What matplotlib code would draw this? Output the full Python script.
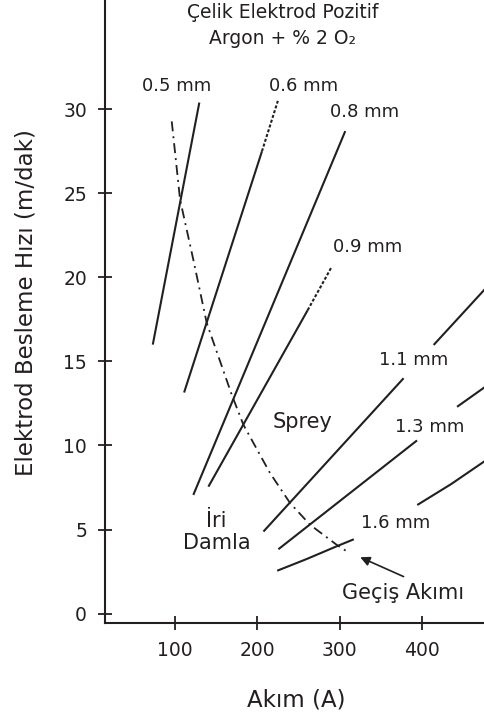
import matplotlib
matplotlib.use("Agg")
import matplotlib.pyplot as plt

plt.rcParams['font.family'] = ['DejaVu Sans']
plt.rcParams['lines.scale_dashes'] = False

ink = '#231f20'

# wire feed speed lines (A, m/dak)
w05_x = [73, 129.5]
w05_y = [16.0, 30.4]

w06_x = [111, 205.5]
w06_y = [13.15, 27.5]
w06_dot_x = [205.5, 224.8]
w06_dot_y = [27.5, 30.5]

w08_x = [122.2, 306.6]
w08_y = [7.06, 28.7]

w09_x = [140.5, 261]
w09_y = [7.55, 18.05]
w09_dot_x = [261, 290.4]
w09_dot_y = [18.05, 20.65]

w11_lo_x = [207.3, 377.4]
w11_lo_y = [4.88, 14.0]
w11_hi_x = [413.9, 490]
w11_hi_y = [15.98, 20.04]

w13_lo_x = [225.5, 393.7]
w13_lo_y = [3.83, 10.3]
w13_hi_x = [442.3, 490]
w13_hi_y = [12.3, 13.96]

w16_lo_x = [224, 260, 297, 317]
w16_lo_y = [2.55, 3.25, 4.02, 4.42]
w16_hi_x = [394, 435, 475, 490]
w16_hi_y = [6.46, 7.7, 9.04, 9.55]

# transition current (Geçiş Akımı)
tr_x = [96.0, 106.1, 122.2, 138.5, 168.9, 183.0, 215.4, 239.7, 264.0, 296.5, 311.4]
tr_y = [29.28, 24.63, 21.05, 17.28, 13.01, 11.23, 8.35, 6.57, 5.28, 4.08, 3.61]

xticks = [100, 200, 300, 400]
yticks = [0, 5, 10, 15, 20, 25, 30]

fig = plt.figure(figsize=(4.84, 7.17), dpi=100)
ax = fig.add_axes([105 / 484, 94 / 717, 379 / 484, 623 / 717])
ax.set_xlim(15, 475)
ax.set_ylim(-0.56, 36.5)

lw = 1.5
solid = dict(color=ink, lw=lw, solid_capstyle='butt')
dotted = dict(color=ink, lw=lw, linestyle=(0, (2.2, 1.4)))

ax.plot(w05_x, w05_y, **solid)
ax.plot(w06_x, w06_y, **solid)
ax.plot(w06_dot_x, w06_dot_y, **dotted)
ax.plot(w08_x, w08_y, **solid)
ax.plot(w09_x, w09_y, **solid)
ax.plot(w09_dot_x, w09_dot_y, **dotted)
ax.plot(w11_lo_x, w11_lo_y, **solid)
ax.plot(w11_hi_x, w11_hi_y, **solid)
ax.plot(w13_lo_x, w13_lo_y, **solid)
ax.plot(w13_hi_x, w13_hi_y, **solid)
ax.plot(w16_lo_x, w16_lo_y, **solid)
ax.plot(w16_hi_x, w16_hi_y, **solid)
ax.plot(tr_x, tr_y, color=ink, lw=1.3, linestyle=(0, (7.2, 3.6, 1.4, 3.6)))

for s in ['top', 'right']:
    ax.spines[s].set_visible(False)
for s in ['left', 'bottom']:
    ax.spines[s].set_linewidth(1.5)
    ax.spines[s].set_color(ink)

ax.set_xticks(xticks)
ax.set_yticks(yticks)
ax.tick_params(direction='inout', length=10, width=1.3, color=ink,
               labelsize=13.5, labelcolor=ink)
ax.tick_params(axis='x', pad=8)
ax.tick_params(axis='y', pad=8)

# text annotations
fs_mm = 13
ax.text(231, 34.97, "Çelik Elektrod Pozitif\nArgon + % 2 O₂", ha='center', va='center',
        fontsize=13.5, color=ink, linespacing=1.45)
ax.text(101.7, 31.4, "0.5 mm", ha='center', va='center', fontsize=fs_mm, color=ink)
ax.text(255.5, 31.4, "0.6 mm", ha='center', va='center', fontsize=fs_mm, color=ink)
ax.text(329.6, 29.85, "0.8 mm", ha='center', va='center', fontsize=fs_mm, color=ink)
ax.text(333.3, 21.82, "0.9 mm", ha='center', va='center', fontsize=fs_mm, color=ink)
ax.text(389.2, 15.1, "1.1 mm", ha='center', va='center', fontsize=fs_mm, color=ink)
ax.text(408.6, 11.1, "1.3 mm", ha='center', va='center', fontsize=fs_mm, color=ink)
ax.text(367.3, 5.39, "1.6 mm", ha='center', va='center', fontsize=fs_mm, color=ink)
ax.text(254.9, 11.4, "Sprey", ha='center', va='center', fontsize=15, color=ink)
ax.text(150.5, 4.86, "İri\nDamla", ha='center', va='center', fontsize=15, color=ink,
        linespacing=1.1)
ax.text(376.4, 1.23, "Geçiş Akımı", ha='center', va='center', fontsize=15, color=ink)
ax.annotate("", xy=(324.8, 3.35), xytext=(377.4, 2.2),
            arrowprops=dict(arrowstyle='-|>', color=ink, lw=1.2,
                            mutation_scale=14, shrinkA=0, shrinkB=0))

fig.text(296 / 484, 1 - 700 / 717, "Akım (A)", ha='center', va='center',
         fontsize=16.5, color=ink)
fig.text(26 / 484, 1 - 303 / 717, "Elektrod Besleme Hızı (m/dak)", ha='center',
         va='center', rotation=90, fontsize=16.5, color=ink)

fig.savefig("out.png", dpi=100)
